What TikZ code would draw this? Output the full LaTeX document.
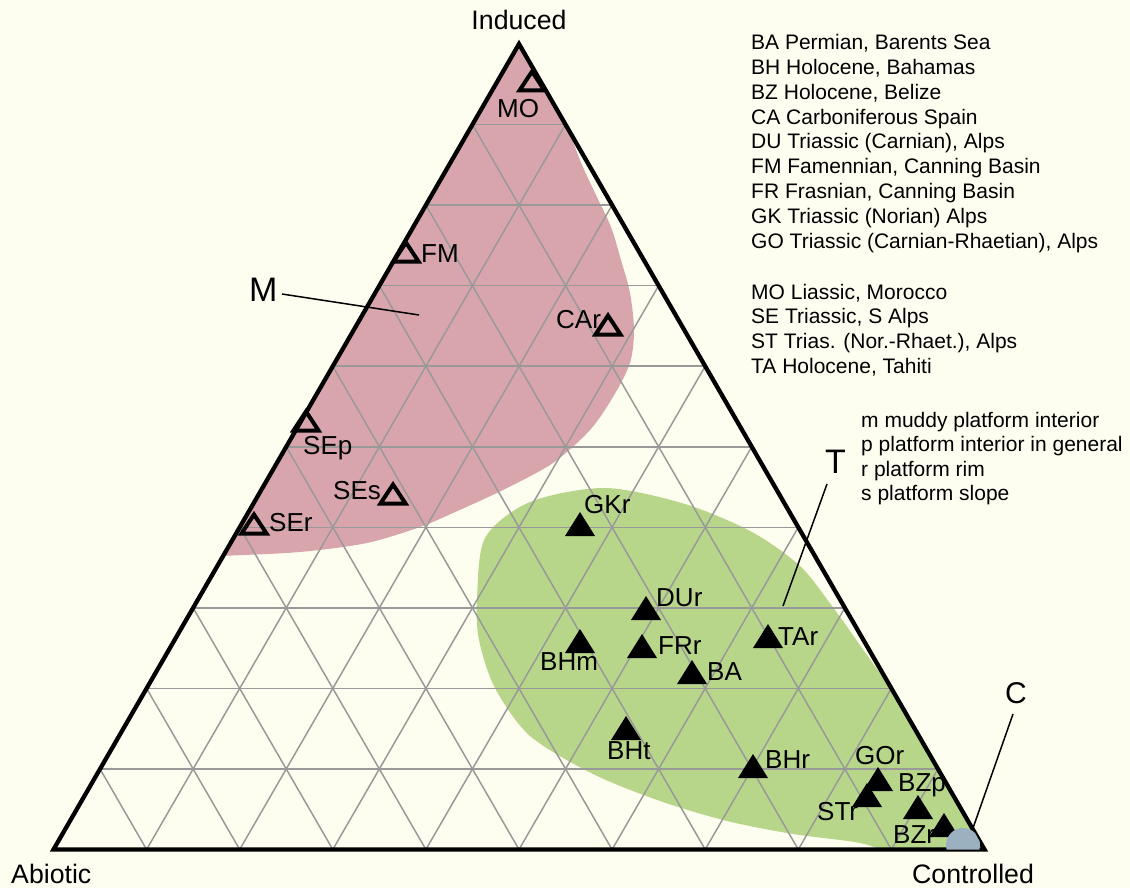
\documentclass[tikz,border=0pt]{standalone}
\usepackage{fontspec}
\setmainfont{Liberation Sans}
\usetikzlibrary{calc}
\definecolor{bgc}{HTML}{FEFEF0}
\definecolor{pinkc}{HTML}{D9A5AD}
\definecolor{greenc}{HTML}{B8D68A}
\definecolor{bluec}{HTML}{9BB1BF}
\definecolor{gridc}{HTML}{999999}
\begin{document}
\begin{tikzpicture}[x=1pt,y=-1pt,
  gridline/.style={gridc, line width=1.5pt},
  frame/.style={line width=4.3pt, line join=miter},
  leader/.style={line width=1.5pt},
  lab/.style={inner sep=0pt, anchor=base west, font=\fontsize{26}{30}\selectfont},
  axis/.style={inner sep=0pt, font=\fontsize{26.7}{30}\selectfont},
  big/.style={inner sep=0pt, anchor=base west, font=\fontsize{34}{40}\selectfont},
  legend/.style={inner sep=0pt, anchor=base west, font=\fontsize{21}{25}\selectfont},
  openmk/.pic={\draw[line width=4pt, line join=miter] (-12.5,-0.5) -- (12.5,-0.5) -- (0,-19.5) -- cycle;},
  filledmk/.pic={\fill (-15,0) -- (15,0) -- (0,-24) -- cycle;}
]
\fill[bgc] (0,0) rectangle (1130,888);
\useasboundingbox (0,0) rectangle (1130,888);
\coordinate (A) at (519,44);
\coordinate (L) at (53.5,849.5);
\coordinate (R) at (984.5,849.5);
% fields
\begin{scope}
  \clip (A) -- (L) -- (R) -- cycle;
  \fill[pinkc] (100,600) -- (519,-50) -- (560,-50) -- plot[smooth] coordinates {(560,60) (566,118) (580,160) (595,193) (611,227) (621,260) (630,293) (634,330) (630,363) (613,397) (590,430) (553,463) (503,490) (453,513) (420,527) (367,543) (300,552) (222,556) (100,562)} -- cycle;
  \fill[greenc] plot[smooth cycle] coordinates {(477,600) (485,538) (530,502) (605,488) (685,504) (752,532) (800,566) (832,606) (862,648) (893,692) (940,760) (1000,840) (990,880) (900,856) (860,843) (793,834) (727,821) (660,801) (593,774) (530,736) (495,688) (479,640)};
\end{scope}
% grid
\foreach \i in {1,...,9} {
  \draw[gridline] ($(L)!\i/10!(A)$) -- ($(R)!\i/10!(A)$);
  \draw[gridline] ($(L)!\i/10!(R)$) -- ($(A)!\i/10!(R)$);
  \draw[gridline] ($(L)!\i/10!(R)$) -- ($(L)!\i/10!(A)$);
}
% frame
\draw[frame] (A) -- (L) -- (R) -- cycle;
% markers
\foreach \px/\py in {532/91, 406/262, 608/335, 306/431, 393/504, 254/534}
  \pic at (\px,\py) {openmk};
\foreach \px/\py in {580/536, 646/620, 580/653, 642/658, 692/684, 768/648, 626/740, 753/778, 878/791, 867/807, 918/819, 944/837}
  \pic at (\px,\py) {filledmk};
\begin{scope}
  \clip (A) -- (L) -- (R) -- cycle;
  \fill[bluec] (963,845) circle (17);
\end{scope}
% point labels
\foreach \tx/\px/\py in {GKr/584/513, DUr/656/606, BHm/540/670, FRr/658/654, BA/707/680, TAr/778/645, BHt/607/759, BHr/765/768, GOr/855/764, STr/817/820, BZp/898/791, BZr/893/843, MO/497/118, FM/421/262, CAr/556/328, SEp/303/454, SEs/333/499, SEr/269/531}
  \node[lab] (lab-\tx) at (\px,\py) {\tx};
% axis labels
\node[axis, anchor=base] (induced) at (519,30) {Induced};
\node[axis, anchor=base west] (abiotic) at (11,883) {Abiotic};
\node[axis, anchor=base west] (controlled) at (912,883) {Controlled};
% field labels and leaders
\node[big] (M) at (249,301) {M};
\node[big] (T) at (825,473) {T};
\node[inner sep=0pt, anchor=base west, font=\fontsize{30}{36}\selectfont] (C) at (1005,703) {C};
\coordinate (mA) at (282,294);
\coordinate (mB) at (419,315);
\coordinate (tA) at (827,484);
\coordinate (tB) at (783,606);
\coordinate (cA) at (1013,714);
\coordinate (cB) at (973,828);
\draw[leader] (mA) -- (mB);
\draw[leader] (tA) -- (tB);
\draw[leader] (cA) -- (cB);
% legends
\foreach \t [count=\i] in {{BA Permian, Barents Sea}, {BH Holocene, Bahamas}, {BZ Holocene, Belize}, {CA Carboniferous Spain}, {DU Triassic (Carnian), Alps}, {FM Famennian, Canning Basin}, {FR Frasnian, Canning Basin}, {GK Triassic (Norian) Alps}, {GO Triassic (Carnian-Rhaetian), Alps}}
  \node[legend] (lga\i) at (751,{50+24.75*(\i-1)}) {\t};
\foreach \t [count=\i] in {{MO Liassic, Morocco}, {SE Triassic, S Alps}, {ST Trias. (Nor.-Rhaet.), Alps}, {TA Holocene, Tahiti}}
  \node[legend] (lgb\i) at (751,{299+24.67*(\i-1)}) {\t};
\foreach \t [count=\i] in {{m muddy platform interior}, {p platform interior in general}, {r platform rim}, {s platform slope}}
  \node[legend] (lgc\i) at (861,{427+24.5*(\i-1)}) {\t};
\end{tikzpicture}
\end{document}
